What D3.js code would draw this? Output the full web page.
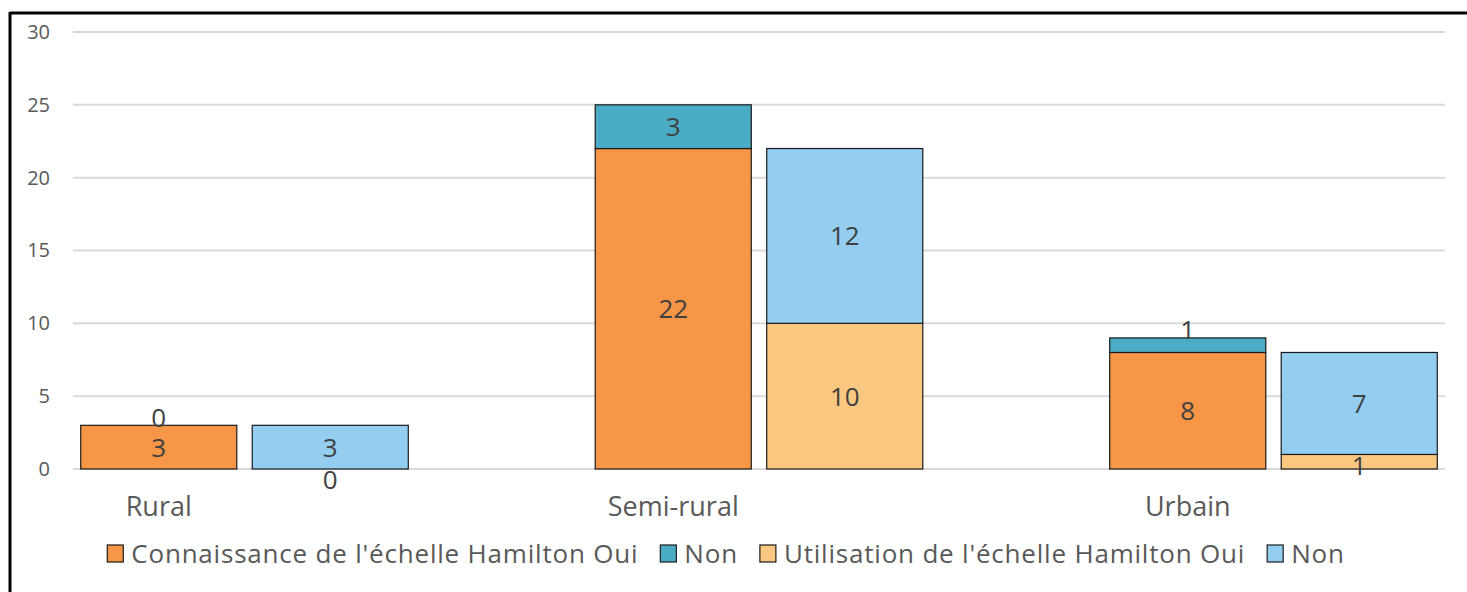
<!DOCTYPE html>
<html>
<head>
<meta charset="utf-8">
<script src="https://cdn.jsdelivr.net/npm/d3@7"></script>
<style>
  body { margin: 0; background: #fff; }
  svg { display: block; font-family: "Open Sans", "Liberation Sans", Arial, sans-serif; }
</style>
</head>
<body>
<div id="chart"></div>
<script>
// categories and the two stacked columns per category
var categories = ["Rural", "Semi-rural", "Urbain"];
var connaissanceOui = [3, 22, 8];
var connaissanceNon = [0, 3, 1];
var utilisationOui = [0, 10, 1];
var utilisationNon = [3, 12, 7];
var yTicks = [0, 5, 10, 15, 20, 25, 30];
var legendLabels = ["Connaissance de l'échelle Hamilton Oui", "Non", "Utilisation de l'échelle Hamilton Oui", "Non"];
var colors = ["#F79646", "#4BACC6", "#FBC882", "#93CEF1"];

var width = 1467, height = 592;
var svg = d3.select("#chart").append("svg").attr("width", width).attr("height", height);

// 8 slots : 2 columns per category + a blank slot between groups
var slots = [];
categories.forEach(function(c, i){
  slots.push(c + "|a");
  slots.push(c + "|b");
  if (i < categories.length - 1) slots.push(c + "|gap");
});

var x = d3.scaleBand().domain(slots).range([73, 1445]).paddingInner(0.09).paddingOuter(0.045);
var y = d3.scaleLinear().domain([0, 30]).range([469, 32]);

// frame lines
svg.append("line").attr("x1", 10).attr("x2", width).attr("y1", 13).attr("y2", 13)
  .style("stroke", "#000").style("stroke-width", 3);
svg.append("line").attr("x1", 10).attr("x2", 10).attr("y1", 12).attr("y2", height)
  .style("stroke", "#000").style("stroke-width", 3);

// grid
svg.selectAll("line.grid").data(yTicks).enter().append("line")
  .attr("class", "grid")
  .attr("x1", 73).attr("x2", 1445)
  .attr("y1", function(d){ return y(d); }).attr("y2", function(d){ return y(d); })
  .style("stroke", "#D9D9D9").style("stroke-width", 2);

// y axis labels
var yAxis = d3.axisLeft(y).tickValues(yTicks).tickSize(0).tickPadding(0);
var yg = svg.append("g").attr("transform", "translate(50,0)").call(yAxis);
yg.select(".domain").remove();
yg.selectAll("text").style("font-size", "20px").style("fill", "#595959")
  .style("font-family", "Open Sans, sans-serif");

// build stacks
var stacks = [];
categories.forEach(function(c, i){
  stacks.push({slot: c + "|a", segs: [
    {v: connaissanceOui[i], s: 0}, {v: connaissanceNon[i], s: 1}]});
  stacks.push({slot: c + "|b", segs: [
    {v: utilisationOui[i], s: 2}, {v: utilisationNon[i], s: 3}]});
});

stacks.forEach(function(st){
  var base = 0;
  st.segs.forEach(function(sg, k){
    sg.y0 = base; sg.y1 = base + sg.v; base = sg.y1; sg.k = k;
  });
  var g = svg.append("g");
  g.selectAll("rect").data(st.segs.filter(function(d){ return d.v > 0; })).enter().append("rect")
    .attr("x", x(st.slot))
    .attr("width", x.bandwidth())
    .attr("y", function(d){ return y(d.y1); })
    .attr("height", function(d){ return y(d.y0) - y(d.y1); })
    .style("fill", function(d){ return colors[d.s]; })
    .style("stroke", "#1a1a1a").style("stroke-width", 1.2);

  // small segments: label pushed just outside/below the segment top, like the source
  g.selectAll("text").data(st.segs).enter().append("text")
    .attr("x", x(st.slot) + x.bandwidth() / 2)
    .attr("y", function(d){
      var h = y(d.y0) - y(d.y1);
      if (h < 20) return d.k === 0 ? y(d.y1) + 11 : y(d.y1) - 8;
      return (y(d.y0) + y(d.y1)) / 2;
    })
    .attr("dy", "0.36em")
    .attr("text-anchor", "middle")
    .style("font-size", "26px").style("fill", "#404040")
    .text(function(d){ return d.v; });
});

// category labels under first column
svg.selectAll("text.cat").data(categories).enter().append("text")
  .attr("class", "cat")
  .attr("x", function(c){ return x(c + "|a") + x.bandwidth() / 2; })
  .attr("y", 516)
  .attr("text-anchor", "middle")
  .style("font-size", "27px").style("fill", "#595959")
  .text(function(c){ return c; });

// legend
var lg = svg.append("g");
var cx = 0;
legendLabels.forEach(function(l, i){
  var it = lg.append("g").attr("transform", "translate(" + cx + ",0)");
  it.append("rect").attr("x", 0).attr("y", -9).attr("width", 16).attr("height", 17)
    .style("fill", colors[i]).style("stroke", "#1a1a1a").style("stroke-width", 1.2);
  var t = it.append("text").attr("x", 24).attr("y", 0).attr("dy", "0.36em")
    .style("font-size", "26px").style("letter-spacing", "0.8px")
    .style("fill", "#595959").text(l);
  cx += 24 + t.node().getComputedTextLength() + 22;
});
var total = cx - 22;
lg.attr("transform", "translate(" + (726 - total / 2) + ",554)");
</script>
</body>
</html>
